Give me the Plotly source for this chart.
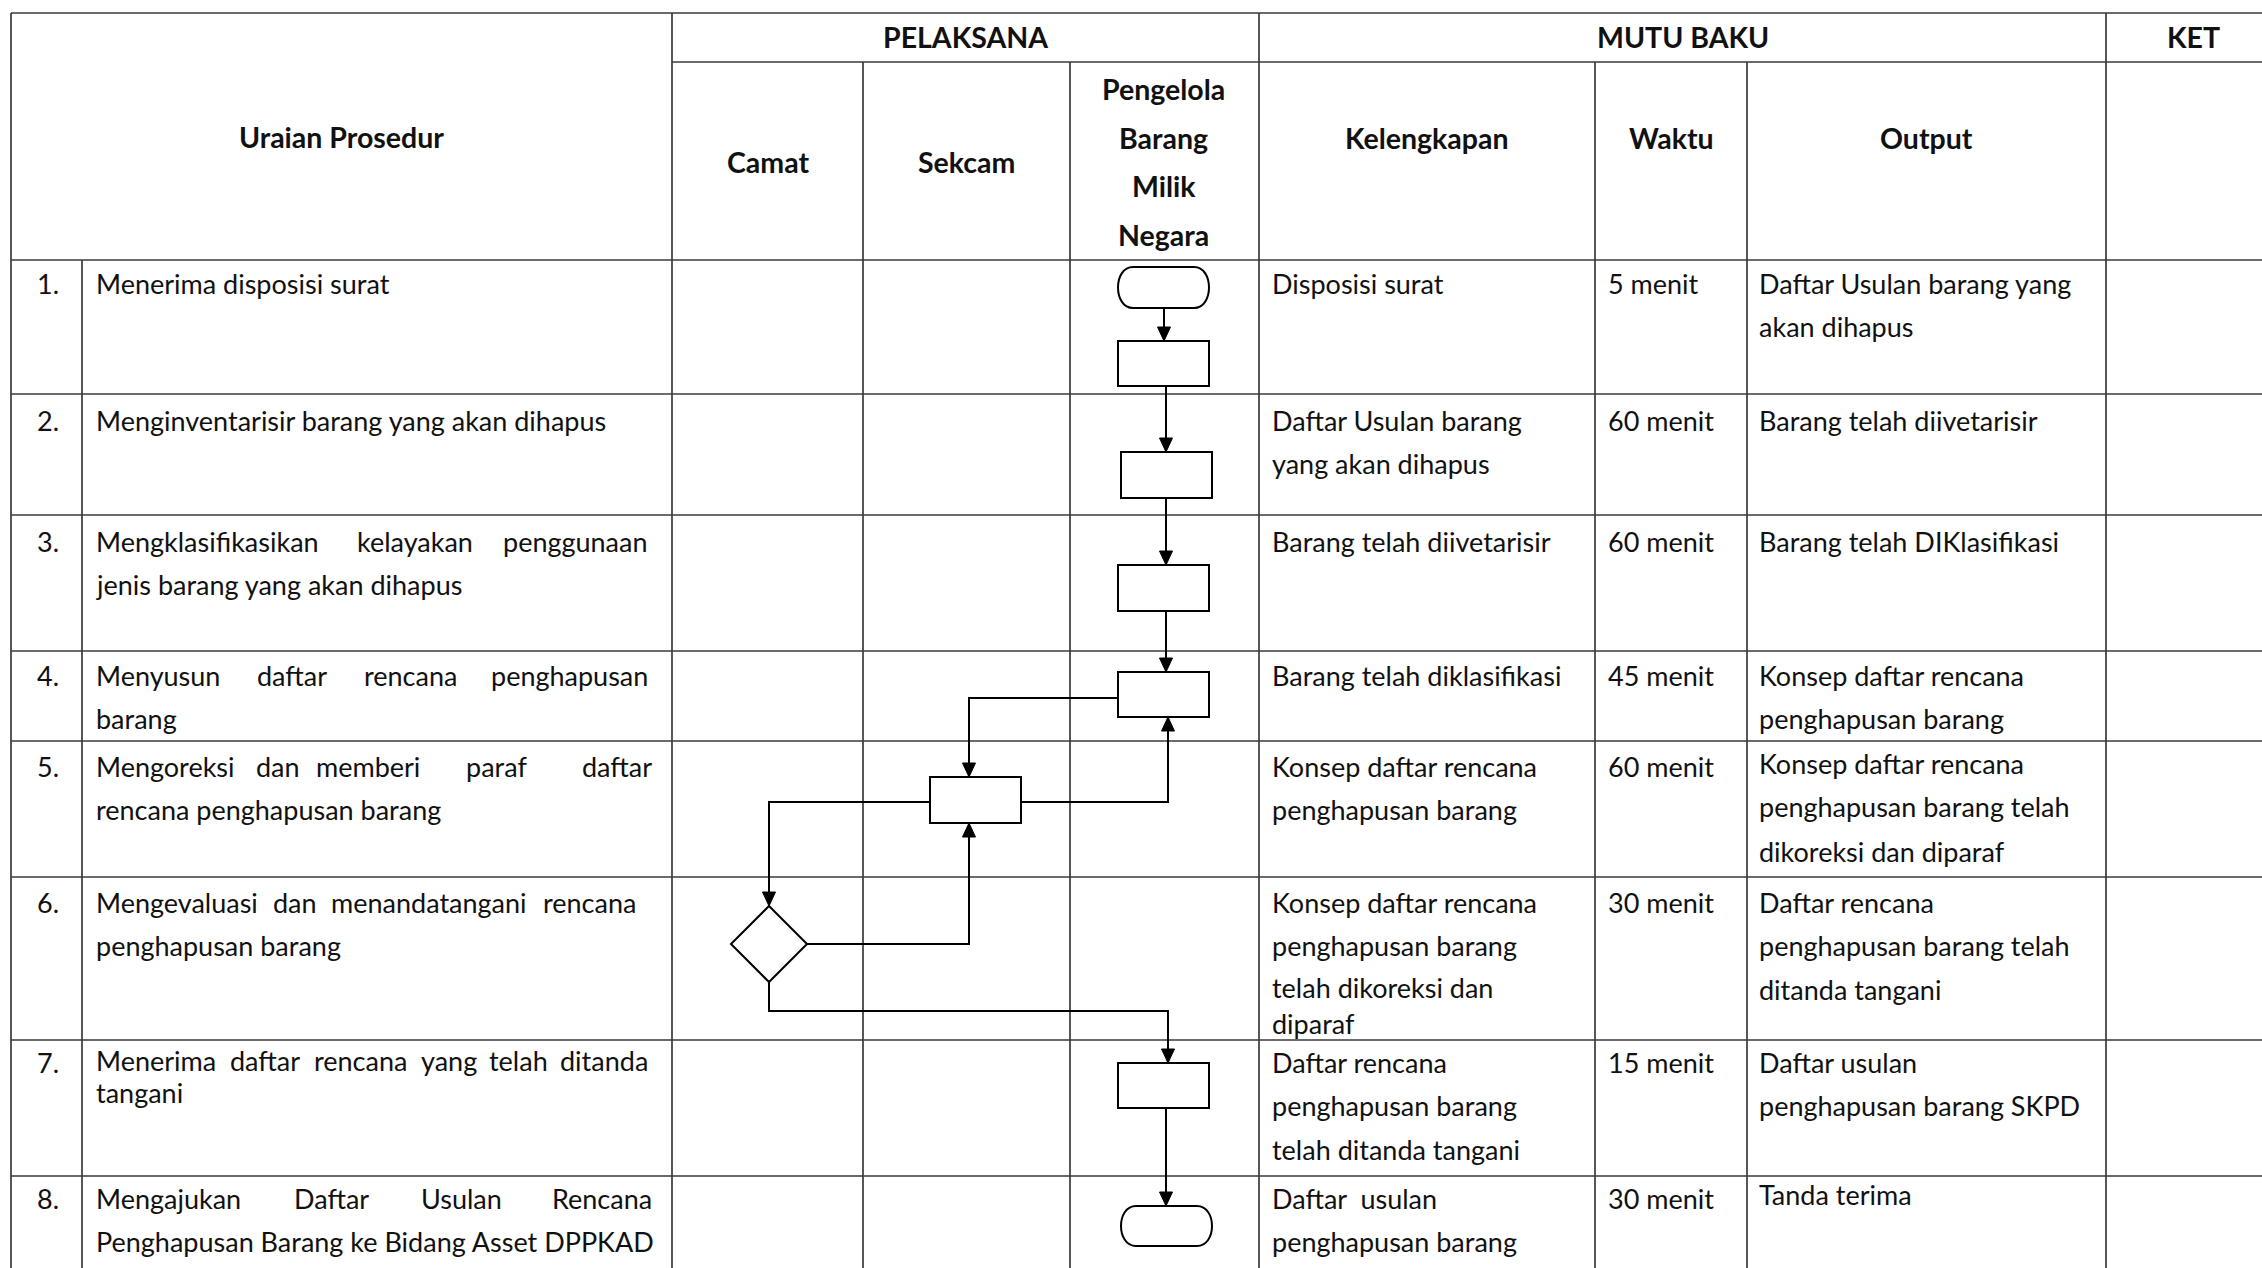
import plotly.graph_objects as go

W, H = 2262, 1268

# ---------------- data ----------------
nomor = ["1.", "2.", "3.", "4.", "5.", "6.", "7.", "8."]
uraian = [
    ["Menerima disposisi surat"],
    ["Menginventarisir barang yang akan dihapus"],
    ["Mengklasifikasikan kelayakan penggunaan", "jenis barang yang akan dihapus"],
    ["Menyusun daftar rencana penghapusan", "barang"],
    ["Mengoreksi dan memberi paraf daftar", "rencana penghapusan barang"],
    ["Mengevaluasi dan menandatangani rencana", "penghapusan barang"],
    ["Menerima daftar rencana yang telah ditanda", "tangani"],
    ["Mengajukan Daftar Usulan Rencana", "Penghapusan Barang ke Bidang Asset DPPKAD"],
]
kelengkapan = [
    ["Disposisi surat"],
    ["Daftar Usulan barang", "yang akan dihapus"],
    ["Barang telah diivetarisir"],
    ["Barang telah diklasifikasi"],
    ["Konsep daftar rencana", "penghapusan barang"],
    ["Konsep daftar rencana", "penghapusan barang", "telah dikoreksi dan", "diparaf"],
    ["Daftar rencana", "penghapusan barang", "telah ditanda tangani"],
    ["Daftar  usulan", "penghapusan barang"],
]
waktu = ["5 menit", "60 menit", "60 menit", "45 menit", "60 menit", "30 menit", "15 menit", "30 menit"]
output = [
    ["Daftar Usulan barang yang", "akan dihapus"],
    ["Barang telah diivetarisir"],
    ["Barang telah DIKlasifikasi"],
    ["Konsep daftar rencana", "penghapusan barang"],
    ["Konsep daftar rencana", "penghapusan barang telah", "dikoreksi dan diparaf"],
    ["Daftar rencana", "penghapusan barang telah", "ditanda tangani"],
    ["Daftar usulan", "penghapusan barang SKPD"],
    ["Tanda terima"],
]
pelaksana = ["Camat", "Sekcam", "Pengelola\nBarang\nMilik\nNegara"]
mutu_baku = ["Kelengkapan", "Waktu", "Output"]

# ---------------- layout geometry ----------------
X_L, X_NO, X_UR, X_CAM, X_SEK, X_PBM, X_KEL, X_WAK, X_OUT, X_R = 11, 82, 672, 863, 1070, 1259, 1595, 1747, 2106, 2262
Y_TOP, Y_SUB, Y_HDR = 13, 62, 260
row_tops = [260, 394, 515, 651, 741, 877, 1040, 1176]
row_y0 = [283, 420, 541, 675, 766, 902, 1062, 1198]
LS = 43.5

TX_UR, TX_KEL, TX_WAK, TX_OUT = 94, 1270, 1606, 1757

# word start positions for justified first lines (last value is the right end)
justify = {
    2: [94, 355, 650],
    3: [94, 255, 362, 650],
    4: [94, 254, 314, 464, 654],
    5: [94, 271, 329, 638],
    6: [94, 228, 312, 419, 487, 650],
    7: [94, 292, 419, 654],
}
override_ur = {6: [1060, 1092]}
override_kel = {5: [902, 945, 987, 1023]}
override_out = {4: [763, 806, 851], 7: [1194]}

FONT = "Lato, Carlito, Calibri, sans-serif"
FS = 27
FSB = 28.5
INK = "#111111"
GRID = "#3a3a3a"

shapes = []
ann = []


def hline(x0, x1, y, w=1.7, c=GRID):
    shapes.append(dict(type="line", x0=x0, x1=x1, y0=y, y1=y, line=dict(color=c, width=w)))


def vline(x, y0, y1, w=1.7, c=GRID):
    shapes.append(dict(type="line", x0=x, x1=x, y0=y0, y1=y1, line=dict(color=c, width=w)))


def text(x, y, s, anchor="left", bold=False, size=None):
    if size is None:
        size = FSB if bold else FS
    ann.append(dict(x=x, y=y, xref="x", yref="y", text=("<b>%s</b>" % s) if bold else s,
                    showarrow=False, xanchor=anchor, yanchor="middle",
                    font=dict(family=FONT, size=size, color=INK)))


# ---------------- table grid ----------------
hline(X_L, X_R, Y_TOP)
hline(X_UR, X_R, Y_SUB)
hline(X_L, X_R, Y_HDR)
for yt in row_tops[1:]:
    hline(X_L, X_R, yt)
for x in [X_L, X_UR, X_PBM, X_OUT]:
    vline(x, Y_TOP, H)
for x in [X_CAM, X_SEK, X_KEL, X_WAK]:
    vline(x, Y_SUB, H)
vline(X_NO, Y_HDR, H)

# ---------------- headers ----------------
text((X_L + X_UR) / 2, 137, "Uraian Prosedur", "center", True)
text((X_UR + X_PBM) / 2, 37, "PELAKSANA", "center", True)
text((X_PBM + X_OUT) / 2, 37, "MUTU BAKU", "center", True)
text(2193, 37, "KET", "center", True)
text((X_UR + X_CAM) / 2, 162, pelaksana[0], "center", True)
text((X_CAM + X_SEK) / 2, 162, pelaksana[1], "center", True)
for i, ln in enumerate(pelaksana[2].split("\n")):
    text((X_SEK + X_PBM) / 2 - 1, 89 + i * 48.7, ln, "center", True)
text((X_PBM + X_KEL) / 2, 138, mutu_baku[0], "center", True)
text((X_KEL + X_WAK) / 2, 138, mutu_baku[1], "center", True)
text((X_WAK + X_OUT) / 2, 138, mutu_baku[2], "center", True)

# ---------------- body text ----------------
for r in range(8):
    y0 = row_y0[r]
    text(35, y0, nomor[r])
    ys = override_ur.get(r, [y0 + i * LS for i in range(len(uraian[r]))])
    for i, ln in enumerate(uraian[r]):
        if i == 0 and r in justify:
            words = ln.split()
            xs = justify[r]
            for j, wd in enumerate(words):
                if j == len(words) - 1:
                    text(xs[j], ys[i], wd, "right")
                else:
                    text(xs[j], ys[i], wd, "left")
        else:
            text(TX_UR, ys[i], ln)
    ys = override_kel.get(r, [y0 + i * LS for i in range(len(kelengkapan[r]))])
    for i, ln in enumerate(kelengkapan[r]):
        text(TX_KEL, ys[i], ln.replace("  ", "\u00a0 "))
    text(TX_WAK, y0, waktu[r])
    ys = override_out.get(r, [y0 + i * LS for i in range(len(output[r]))])
    for i, ln in enumerate(output[r]):
        text(TX_OUT, ys[i], ln)

# ---------------- flowchart ----------------
FL = dict(color="#000000", width=2)


def box(x0, x1, y0, y1):
    shapes.append(dict(type="rect", x0=x0, x1=x1, y0=y0, y1=y1, line=FL, fillcolor="white"))


def terminator(x0, x1, y0, y1, r=15):
    k = r / 0.75
    p = (f"M {x0 + r},{y0} L {x1 - r},{y0} "
         f"C {x1 - r + k},{y0} {x1 - r + k},{y1} {x1 - r},{y1} "
         f"L {x0 + r},{y1} "
         f"C {x0 + r - k},{y1} {x0 + r - k},{y0} {x0 + r},{y0} Z")
    shapes.append(dict(type="path", path=p, line=FL, fillcolor="white"))


def diamond(cx, cy, hw, hh):
    p = f"M {cx},{cy - hh} L {cx + hw},{cy} L {cx},{cy + hh} L {cx - hw},{cy} Z"
    shapes.append(dict(type="path", path=p, line=FL, fillcolor="white"))


def polyline(pts):
    p = "M " + " L ".join(f"{x},{y}" for x, y in pts)
    shapes.append(dict(type="path", path=p, line=FL))


def head(x, y, d, L=14, hw=6.5):
    if d == "down":
        p = f"M {x},{y} L {x - hw},{y - L} L {x + hw},{y - L} Z"
    else:
        p = f"M {x},{y} L {x - hw},{y + L} L {x + hw},{y + L} Z"
    shapes.append(dict(type="path", path=p, line=dict(color="#000", width=1), fillcolor="#000"))


def conn(pts, d):
    polyline(pts)
    head(pts[-1][0], pts[-1][1], d)


conn([(1164, 308), (1164, 341)], "down")
conn([(1166, 386), (1166, 452)], "down")
conn([(1166, 498), (1166, 565)], "down")
conn([(1166, 611), (1166, 672)], "down")
conn([(1118, 698), (969, 698), (969, 777)], "down")
conn([(1021, 802), (1168, 802), (1168, 717)], "up")
conn([(930, 802), (769, 802), (769, 906)], "down")
conn([(806, 944), (969, 944), (969, 823)], "up")
conn([(769, 981), (769, 1011), (1168, 1011), (1168, 1063)], "down")
conn([(1166, 1108), (1166, 1206)], "down")

terminator(1118, 1209, 267, 308)
box(1118, 1209, 341, 386)
box(1121, 1212, 452, 498)
box(1118, 1209, 565, 611)
box(1118, 1209, 672, 717)
box(930, 1021, 777, 823)
diamond(769, 944, 38, 38)
box(1118, 1209, 1063, 1108)
terminator(1121, 1212, 1206, 1246)

fig = go.Figure()
fig.update_layout(
    width=W, height=H, margin=dict(l=0, r=0, t=0, b=0),
    paper_bgcolor="white", plot_bgcolor="white",
    xaxis=dict(range=[0, W], visible=False, fixedrange=True),
    yaxis=dict(range=[H, 0], visible=False, fixedrange=True),
    shapes=shapes, annotations=ann, showlegend=False,
)
fig.write_html("out.html", config={"displayModeBar": False},
               post_script="document.body.style.margin='0';document.body.style.overflow='hidden';")
